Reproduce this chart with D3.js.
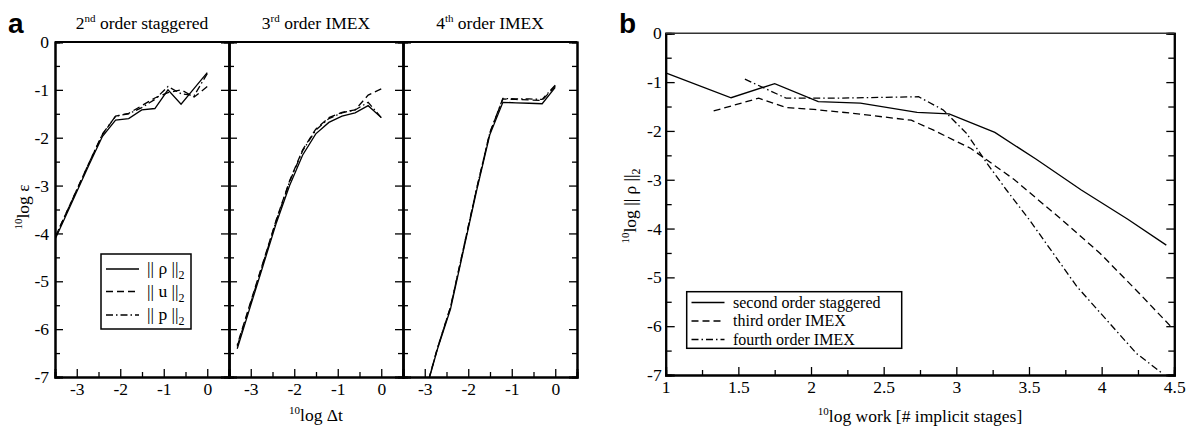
<!DOCTYPE html>
<html><head><meta charset="utf-8">
<script src="https://cdn.jsdelivr.net/npm/d3@7"></script>
<style>
body{margin:0;background:#fff}
svg text{font-family:"Liberation Serif","Times New Roman",serif !important;fill:#000}
svg text.letter{font-family:"Liberation Sans",Arial,sans-serif !important;font-weight:bold}
</style>
</head><body>
<svg id="c" width="1195" height="429"></svg>
<script>
// ---------- Panel a data (x = 10log dt) ----------
const dtLog = [0,-0.301,-0.602,-0.903,-1.204,-1.505,-1.806,-2.107,-2.408,-2.709,-3.010,-3.311,-3.612];
const stag_rho = [-0.64,-0.97,-1.30,-1.00,-1.39,-1.42,-1.60,-1.63,-1.97,-2.55,-3.15,-3.75,-4.35];
const stag_u   = [-0.93,-1.15,-1.00,-1.06,-1.17,-1.33,-1.49,-1.55,-1.93,-2.51,-3.11,-3.71,-4.31];
const stag_p   = [-0.66,-1.12,-1.08,-0.93,-1.20,-1.37,-1.50,-1.55,-1.92,-2.51,-3.11,-3.71,-4.31];
const imex3_rho = [-1.58,-1.33,-1.48,-1.55,-1.68,-1.92,-2.36,-3.00,-3.77,-4.65,-5.53,-6.41];
const imex3_u   = [-0.98,-1.11,-1.42,-1.47,-1.58,-1.82,-2.25,-2.90,-3.70,-4.58,-5.45,-6.33];
const imex3_p   = [-1.58,-1.26,-1.42,-1.48,-1.60,-1.84,-2.27,-2.92,-3.72,-4.60,-5.48,-6.36];
const imex4_rho = [-0.95,-1.29,-1.28,-1.27,-1.26,-1.94,-3.10,-4.34,-5.58,-6.42,-7.40];
const imex4_u   = [-0.92,-1.22,-1.21,-1.20,-1.19,-1.90,-3.06,-4.30,-5.54,-6.40,-7.38];
const imex4_p   = [-0.90,-1.20,-1.19,-1.19,-1.18,-1.90,-3.06,-4.30,-5.54,-6.40,-7.38];
const panelTitles = [["2","nd"," order staggered"],["3","rd"," order IMEX"],["4","th"," order IMEX"]];
const legendA = ["ρ","u","p"];

// ---------- Panel b data (x = 10log work) ----------
const stagWorkX = [1.00,1.45,1.75,2.05,2.34,2.73,2.95,3.265,3.55,3.86,4.18,4.445];
const stagWorkY = [-0.81,-1.32,-1.03,-1.40,-1.43,-1.62,-1.65,-2.03,-2.58,-3.21,-3.81,-4.34];
const imex3WorkX = [1.33,1.64,1.83,2.02,2.29,2.69,2.84,3.10,3.40,3.73,3.99,4.26,4.49];
const imex3WorkY = [-1.59,-1.33,-1.52,-1.56,-1.64,-1.78,-1.98,-2.36,-3.00,-3.83,-4.51,-5.33,-6.05];
const imex4WorkX = [1.545,1.83,2.15,2.74,2.91,3.07,3.21,3.345,3.505,3.83,4.24,4.42];
const imex4WorkY = [-0.94,-1.33,-1.33,-1.30,-1.57,-2.05,-2.66,-3.21,-3.83,-5.19,-6.56,-6.97];
const legendB = ["second order staggered","third order IMEX","fourth order IMEX"];

const yMajor = [0,-1,-2,-3,-4,-5,-6,-7];
const yMinor = [-0.5,-1.5,-2.5,-3.5,-4.5,-5.5,-6.5];
const xMajorA = [-3,-2,-1,0];
const xMinorA = [-2.5,-1.5,-0.5];
const xMajorB = [1,1.5,2,2.5,3,3.5,4,4.5];
const xMinorB = [1.25,1.75,2.25,2.75,3.25,3.75,4.25];

const dashes = [null,"7,4","7,3,1.5,3"];
const FS = 17.5, SUP = 11;

const svg = d3.select("#c");
const defs = svg.append("defs");
const fmt = d => d===0 ? "0" : String(d).replace("\u2212","-");

// ================= Panel a =================
const aTop = 42, aBot = 377, subW = 174, subLefts = [55,229,403];
const yA = d3.scaleLinear().domain([0,-7]).range([aTop,aBot]);
const seriesA = [[stag_rho,stag_u,stag_p],[imex3_rho,imex3_u,imex3_p],[imex4_rho,imex4_u,imex4_p]];

subLefts.forEach((L,i)=>{
  const x = d3.scaleLinear().domain([-3.5,0.5]).range([L,L+subW]);
  const g = svg.append("g");
  defs.append("clipPath").attr("id","clipA"+i).append("rect")
    .attr("x",L).attr("y",aTop).attr("width",subW).attr("height",aBot-aTop);
  seriesA[i].forEach((vals,k)=>{
    const pts = vals.map((v,j)=>[dtLog[j],v]);
    g.append("path").attr("clip-path","url(#clipA"+i+")")
      .attr("d",d3.line().x(d=>x(d[0])).y(d=>yA(d[1]))(pts))
      .attr("fill","none").attr("stroke","#000").attr("stroke-width",1.3)
      .attr("stroke-dasharray",dashes[k]);
  });
  g.append("g").attr("transform",`translate(${L},0)`)
    .call(d3.axisLeft(yA).tickValues(yMajor).tickSize(-8).tickPadding(6).tickFormat(i===0?fmt:""));
  g.append("g").attr("transform",`translate(${L},0)`)
    .call(d3.axisLeft(yA).tickValues(yMinor).tickSize(-5).tickFormat(""));
  g.append("g").attr("transform",`translate(${L+subW},0)`)
    .call(d3.axisRight(yA).tickValues(yMajor).tickSize(-8).tickFormat(""));
  g.append("g").attr("transform",`translate(${L+subW},0)`)
    .call(d3.axisRight(yA).tickValues(yMinor).tickSize(-5).tickFormat(""));
  g.append("g").attr("transform",`translate(0,${aBot})`)
    .call(d3.axisBottom(x).tickValues(xMajorA).tickSize(-8).tickPadding(6).tickFormat(fmt));
  g.append("g").attr("transform",`translate(0,${aBot})`)
    .call(d3.axisBottom(x).tickValues(xMinorA).tickSize(-5).tickFormat(""));
  g.append("line").attr("x1",L).attr("x2",L+subW).attr("y1",aTop).attr("y2",aTop)
    .attr("stroke","#000").attr("stroke-width",2);
  const t = svg.append("text").attr("x",L+subW/2).attr("y",29).attr("text-anchor","middle")
    .style("font-size",FS+"px");
  t.append("tspan").text(panelTitles[i][0]);
  t.append("tspan").style("font-size",SUP+"px").attr("dy",-7).text(panelTitles[i][1]);
  t.append("tspan").attr("dy",7).text(panelTitles[i][2]);
});

// ================= Panel b =================
const bL = 665.7, bR = 1174.3, bTop = 33.3, bBot = 375;
const xB = d3.scaleLinear().domain([1,4.5]).range([bL,bR]);
const yB = d3.scaleLinear().domain([0,-7]).range([bTop,bBot]);
const gb = svg.append("g");
const seriesB = [[stagWorkX,stagWorkY],[imex3WorkX,imex3WorkY],[imex4WorkX,imex4WorkY]];
seriesB.forEach(([xs,ys],k)=>{
  gb.append("path")
    .attr("d",d3.line().x((d,j)=>xB(xs[j])).y(d=>yB(d))(ys))
    .attr("fill","none").attr("stroke","#000").attr("stroke-width",1.3)
    .attr("stroke-dasharray",dashes[k]);
});
gb.append("g").attr("transform",`translate(${bL},0)`)
  .call(d3.axisLeft(yB).tickValues(yMajor).tickSize(-9).tickPadding(4).tickFormat(fmt));
gb.append("g").attr("transform",`translate(${bL},0)`)
  .call(d3.axisLeft(yB).tickValues(yMinor).tickSize(-6).tickFormat(""));
gb.append("g").attr("transform",`translate(${bR},0)`)
  .call(d3.axisRight(yB).tickValues(yMajor).tickSize(-8).tickFormat(""));
gb.append("g").attr("transform",`translate(${bR},0)`)
  .call(d3.axisRight(yB).tickValues(yMinor).tickSize(-6).tickFormat(""));
gb.append("g").attr("transform",`translate(0,${bBot})`)
  .call(d3.axisBottom(xB).tickValues(xMajorB).tickSize(-8).tickPadding(6).tickFormat(d=>String(d)));
gb.append("g").attr("transform",`translate(0,${bBot})`)
  .call(d3.axisBottom(xB).tickValues(xMinorB).tickSize(-5).tickFormat(""));
gb.append("line").attr("x1",bL).attr("x2",bR).attr("y1",bTop).attr("y2",bTop)
  .attr("stroke","#333").attr("stroke-width",1.5);

svg.selectAll(".domain").attr("stroke","#000").attr("stroke-width",2);
svg.selectAll(".tick line").attr("stroke","#000").attr("stroke-width",1.3);
svg.selectAll(".tick text").style("font-size",FS+"px").style("fill","#000");

// ---------- axis labels ----------
const lab1 = svg.append("text").attr("transform","translate(29,207) rotate(-90)")
  .attr("text-anchor","middle").style("font-size",FS+"px");
lab1.append("tspan").style("font-size",SUP+"px").attr("dy",-7).text("10");
lab1.append("tspan").attr("dy",7).text("log ε");

const lab2 = svg.append("text").attr("x",316).attr("y",421).attr("text-anchor","middle").style("font-size",FS+"px");
lab2.append("tspan").style("font-size",SUP+"px").attr("dy",-7).text("10");
lab2.append("tspan").attr("dy",7).text("log Δt");

const lab3 = svg.append("text").attr("transform","translate(636,206) rotate(-90)")
  .attr("text-anchor","middle").style("font-size",FS+"px");
lab3.append("tspan").style("font-size",SUP+"px").attr("dy",-7).text("10");
lab3.append("tspan").attr("dy",7).text("log || ρ ||");
lab3.append("tspan").style("font-size","12px").attr("dy",4).text("2");

const lab4 = svg.append("text").attr("x",920).attr("y",422).attr("text-anchor","middle").style("font-size",FS+"px");
lab4.append("tspan").style("font-size",SUP+"px").attr("dy",-7).text("10");
lab4.append("tspan").attr("dy",7).text("log work [# implicit stages]");

// panel letters
svg.append("text").attr("class","letter").attr("x",8).attr("y",33).style("font-size","28px").text("a");
svg.append("text").attr("class","letter").attr("x",619).attr("y",33).style("font-size","28px").text("b");

// ---------- legend a ----------
const legA = svg.append("g");
legA.append("rect").attr("x",101).attr("y",254).attr("width",90).attr("height",75)
  .attr("fill","#fff").attr("stroke","#000").attr("stroke-width",1.5);
const legAY = [269,291.5,315];
legendA.forEach((s,k)=>{
  legA.append("line").attr("x1",106).attr("x2",139).attr("y1",legAY[k]).attr("y2",legAY[k])
    .attr("stroke","#000").attr("stroke-width",1.3).attr("stroke-dasharray",dashes[k]);
  const t = legA.append("text").attr("x",147).attr("y",legAY[k]+5).style("font-size",FS+"px");
  t.append("tspan").text("|| "+s+" ||");
  t.append("tspan").style("font-size","12px").attr("dy",5).text("2");
});

// ---------- legend b ----------
const legB = svg.append("g");
legB.append("rect").attr("x",686.7).attr("y",291.7).attr("width",215).attr("height",56.6)
  .attr("fill","#fff").attr("stroke","#000").attr("stroke-width",1.5);
const legBY = [302.5,321,339.5];
legendB.forEach((s,k)=>{
  legB.append("line").attr("x1",691.5).attr("x2",724.5).attr("y1",legBY[k]).attr("y2",legBY[k])
    .attr("stroke","#000").attr("stroke-width",1.3).attr("stroke-dasharray",dashes[k]);
  legB.append("text").attr("x",733).attr("y",legBY[k]+5).style("font-size","16px").text(s);
});
</script>
</body></html>
